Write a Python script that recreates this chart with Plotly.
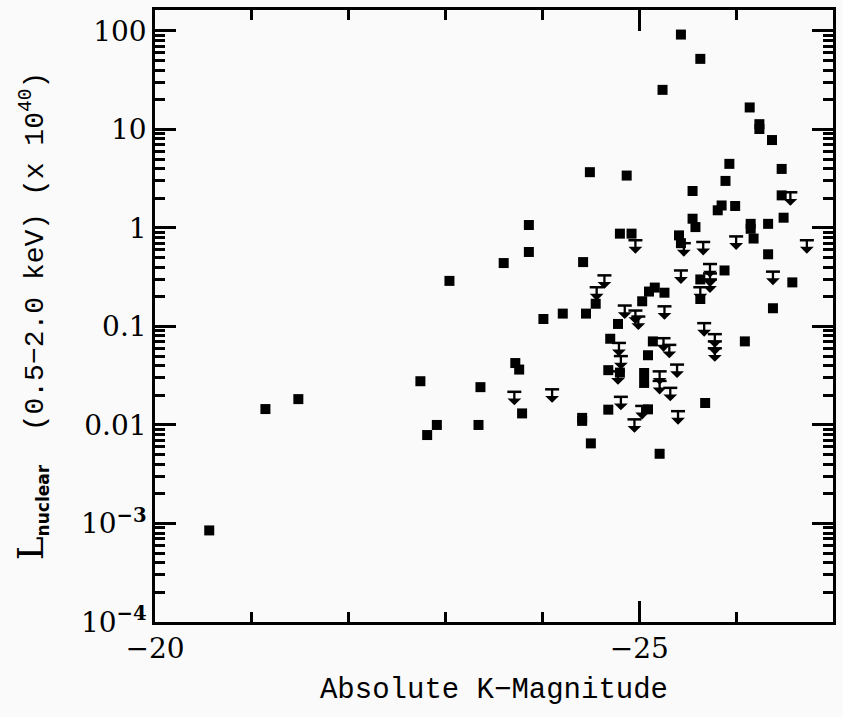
import numpy as np
import plotly.graph_objects as go

# Detections (filled squares): absolute K magnitude, nuclear luminosity (x 1e40 erg/s)
det_mk = [-20.56, -21.14, -21.48, -22.74, -22.91, -22.81, -23.04, -23.36, -23.34, -23.86,
          -23.86, -23.60, -24.42, -24.80, -24.92, -25.03, -24.55, -24.21, -24.45, -24.01,
          -24.78, -24.70, -24.68, -24.80, -23.72, -23.76, -23.79, -24.41, -24.41, -24.50,
          -24.68, -25.55, -25.58, -26.15, -26.15, -26.33, -26.49, -26.18, -26.33, -26.58,
          -26.38, -26.09, -25.68, -25.41, -25.63, -25.63, -25.88, -25.10, -25.16, -25.26,
          -25.14, -25.09, -25.05, -25.05, -25.09, -25.21, -25.43, -25.63, -25.24, -26.14,
          -26.24, -26.24, -26.37, -24.49, -24.87, -25.93, -25.89, -26.47, -25.55, -26.47,
          -25.99, -25.81, -25.85, -25.43]
det_lum = [8.5e-4, 0.0145, 0.0183, 0.0278, 0.0100, 0.0079, 0.29, 0.0242, 0.0100, 1.07,
           0.57, 0.44, 0.45, 0.875, 0.875, 0.18, 0.17, 0.135, 0.135, 0.119,
           0.106, 0.075, 0.036, 0.034, 0.0425, 0.0365, 0.0131, 0.0118, 0.0110, 0.0065,
           0.0143, 1.24, 1.02, 1.10, 0.98, 1.10, 1.27, 0.78, 0.54, 0.28,
           0.153, 0.0705, 0.0167, 0.84, 0.30, 0.19, 0.37, 0.226, 0.248, 0.22,
           0.0705, 0.051, 0.0337, 0.0267, 0.0144, 0.0051, 91.8, 52.0, 25.2, 16.7,
           11.3, 10.1, 7.8, 3.68, 3.40, 4.47, 3.0, 3.97, 2.37, 2.14,
           1.67, 1.51, 1.69, 0.70]

# Upper limits (downward arrows)
lim_mk = [-24.96, -24.64, -24.56, -24.85, -24.96, -24.99, -24.79, -24.81, -24.78, -23.71,
          -24.10, -24.81, -24.95, -26.73, -26.38, -26.00, -25.66, -25.46, -25.43, -25.63,
          -25.73, -25.73, -25.73, -25.26, -25.25, -25.31, -25.67, -25.78, -25.78, -25.78,
          -25.39, -25.21, -25.21, -25.32, -25.03, -25.40, -26.56]
lim_lum = [0.75, 0.33, 0.25, 0.163, 0.145, 0.126, 0.068, 0.050, 0.035, 0.0217,
           0.023, 0.0193, 0.0114, 0.75, 0.36, 0.82, 0.72, 0.70, 0.37, 0.25,
           0.43, 0.345, 0.30, 0.16, 0.076, 0.065, 0.108, 0.0835, 0.0705, 0.060,
           0.041, 0.035, 0.028, 0.0238, 0.0156, 0.0138, 2.3]

y_tickvals = [1e-4, 1e-3, 0.01, 0.1, 1, 10, 100]
y_ticktext = ["10<sup><b>−4</b></sup>", "10<sup><b>−3</b></sup>", "0.01", "0.1", "1", "10", "100"]
x_tickvals = [-20, -25]
x_ticktext = ["−20", "−25"]

# minor tick positions: 2..9 within each decade, each integer magnitude
y_minor = [m * 10.0 ** e for e in range(-4, 3) for m in range(2, 10)]
x_minor = list(range(-21, -27, -1))

MONO = "Liberation Mono"
SERIF = "DejaVu Serif"

fig = go.Figure()

fig.add_trace(go.Scatter(
    x=det_mk, y=det_lum, mode="markers",
    marker=dict(symbol="square", size=10, color="black", line=dict(width=0)),
    showlegend=False, hoverinfo="x+y"))

fig.add_trace(go.Scatter(
    x=lim_mk, y=lim_lum, mode="markers",
    marker=dict(symbol="line-ew", size=10, color="black", line=dict(width=2.5, color="black")),
    showlegend=False, hoverinfo="x+y"))

for mk, lum in zip(lim_mk, lim_lum):
    fig.add_annotation(x=mk, y=float(np.log10(lum)), xref="x", yref="y",
                       ax=0, ay=15, text="", showarrow=True, arrowside="start",
                       arrowhead=1, arrowsize=0.9, arrowwidth=2.3, arrowcolor="black",
                       standoff=0, startstandoff=0)

axis_common = dict(showline=True, linewidth=2.5, linecolor="black", mirror="allticks",
                   ticks="inside", tickcolor="black", tickwidth=2.5, showgrid=False,
                   zeroline=False, tickmode="array")

fig.update_xaxes(range=[-20, -27], tickvals=x_tickvals, ticktext=x_ticktext, ticklen=21,
                 tickfont=dict(family=SERIF, size=28, color="black"),
                 minor=dict(tickmode="array", tickvals=x_minor, ticks="inside", ticklen=10,
                            tickwidth=2.5, tickcolor="black", showgrid=False),
                 title=dict(text="Absolute K−Magnitude", font=dict(family=MONO, size=29, color="black"),
                            standoff=14),
                 **axis_common)

fig.update_yaxes(type="log", range=[-4, 2.212], tickvals=y_tickvals, ticktext=y_ticktext, ticklen=21,
                 tickfont=dict(family=SERIF, size=28, color="black"),
                 ticksuffix="  ",
                 minor=dict(tickmode="array", tickvals=y_minor, ticks="inside", ticklen=10,
                            tickwidth=2.5, tickcolor="black", showgrid=False),
                 title=dict(text="<span style='font-family:DejaVu Serif;font-size:36px'>L</span>"
                                 "<sub><span style='font-family:DejaVu Sans;font-size:17px;font-weight:bold'>nuclear</span></sub>"
                                 "  (0.5−2.0 keV) (x 10<sup>40</sup>)",
                            font=dict(family=MONO, size=28, color="black"), standoff=30),
                 **axis_common)

fig.update_layout(template="plotly_white", width=843, height=717,
                  margin=dict(l=155, r=9, t=7, b=95),
                  paper_bgcolor="#fafafa", plot_bgcolor="#fafafa")

fig.write_html("out.html")
